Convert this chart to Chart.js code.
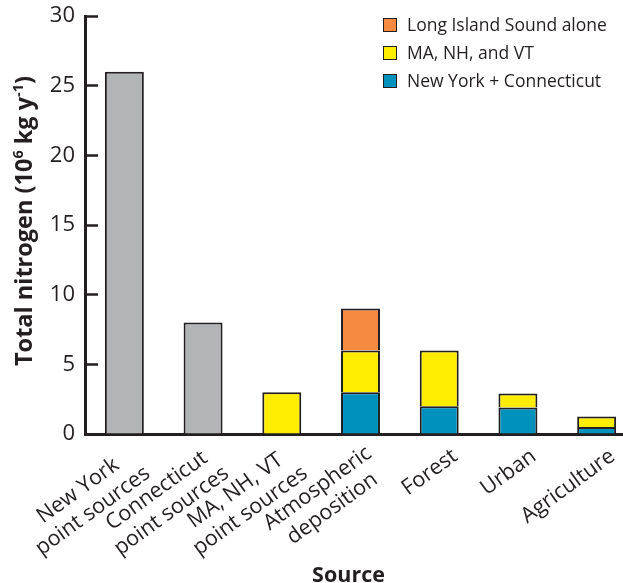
<!DOCTYPE html>
<html>
<head>
<meta charset="utf-8">
<script src="https://cdn.jsdelivr.net/npm/chart.js@4.4.1/dist/chart.umd.min.js"></script>
<style>
  html, body { margin: 0; padding: 0; background: #ffffff; overflow: hidden; }
  #wrap { width: 623px; height: 583px; overflow: hidden; position: relative; }
  canvas { display: block; }
</style>
</head>
<body>
<div id="wrap"><canvas id="chart" width="636" height="583"></canvas></div>
<script>
// Nitrogen sources to Long Island Sound, 10^6 kg per year
const categories = [
  ["New York", "point sources"],
  ["Connecticut", "point sources"],
  ["MA, NH, VT", "point sources"],
  ["Atmospheric", "deposition"],
  ["Forest"],
  ["Urban"],
  ["Agriculture"]
];
const pointSources       = [26, 8, null, null, null, null, null];
const newYorkConnecticut = [null, null, null, 3, 2, 1.9, 0.5];
const maNhVt             = [null, null, 3, 3, 4, 1.0, 0.75];
const longIslandSound    = [null, null, null, 3, null, null, null];
const yTicks = [0, 5, 10, 15, 20, 25, 30];

const INK = '#231f20';
const FONT = '"Open Sans", "DejaVu Sans", sans-serif';

const barStyle = {
  borderColor: INK,
  borderWidth: 2,
  borderSkipped: 'start',
  categoryPercentage: 1,
  barPercentage: 0.495,
  stack: 'n'
};

const datasets = [
  Object.assign({ label: 'Point sources', data: pointSources, backgroundColor: '#b3b4b6', inLegend: false }, barStyle),
  Object.assign({ label: 'New York + Connecticut', data: newYorkConnecticut, backgroundColor: '#0092bd', inLegend: true }, barStyle),
  Object.assign({ label: 'MA, NH, and VT', data: maNhVt, backgroundColor: '#ffed00', inLegend: true }, barStyle),
  Object.assign({ label: 'Long Island Sound alone', data: longIslandSound, backgroundColor: '#f68a41', inLegend: true }, barStyle)
];

// Legend, rotated category labels and axis titles
const decorations = {
  id: 'decorations',
  afterDraw(chart) {
    const ctx = chart.ctx;
    const area = chart.chartArea;
    const xs = chart.scales.x;
    ctx.save();
    ctx.fillStyle = INK;

    // legend: top entry is the top of the stack
    const entries = chart.data.datasets.filter(d => d.inLegend).reverse();
    ctx.font = '17.5px ' + FONT;
    ctx.textAlign = 'left';
    ctx.textBaseline = 'alphabetic';
    entries.forEach((d, i) => {
      const base = 31 + i * 28;
      ctx.fillStyle = d.backgroundColor;
      ctx.fillRect(383, base - 13, 14, 14);
      ctx.strokeStyle = INK;
      ctx.lineWidth = 1;
      ctx.strokeRect(383.5, base - 12.5, 13, 13);
      ctx.fillStyle = INK;
      ctx.fillText(d.label, 407, base);
    });

    // category labels, lines centred, rotated; block hangs from the axis
    const angle = -36 * Math.PI / 180;
    const lh = 25;
    ctx.font = '21.5px ' + FONT;
    ctx.textAlign = 'center';
    ctx.textBaseline = 'middle';
    categories.forEach((lines, i) => {
      const px = xs.getPixelForValue(i);
      const w = Math.max(...lines.map(l => ctx.measureText(l).width));
      ctx.save();
      ctx.translate(px + 16, xs.top + 20 + 7 * (lines.length - 1));
      ctx.rotate(angle);
      lines.forEach((l, k) => {
        ctx.fillText(l, -w / 2, (k - (lines.length - 1) / 2) * lh);
      });
      ctx.restore();
    });

    // x title
    ctx.font = 'bold 21.5px ' + FONT;
    ctx.textAlign = 'center';
    ctx.textBaseline = 'alphabetic';
    ctx.fillText('Source', 348.5, 582);

    // y title with superscripts
    const parts = [
      { t: 'Total nitrogen (10', sup: false },
      { t: '6', sup: true },
      { t: ' kg y', sup: false },
      { t: '-1', sup: true },
      { t: ')', sup: false }
    ];
    const fs = 23.5, sfs = 14.5;
    const widthOf = p => { ctx.font = 'bold ' + (p.sup ? sfs : fs) + 'px ' + FONT; return ctx.measureText(p.t).width; };
    const total = parts.reduce((s, p) => s + widthOf(p), 0);
    ctx.save();
    ctx.translate(32, (area.top + area.bottom) / 2 - 4);
    ctx.rotate(-Math.PI / 2);
    ctx.textAlign = 'left';
    let cx = -total / 2;
    parts.forEach(p => {
      const w = widthOf(p);
      ctx.fillText(p.t, cx, p.sup ? -fs * 0.38 : 0);
      cx += w;
    });
    ctx.restore();

    ctx.restore();
  }
};

new Chart(document.getElementById('chart'), {
  type: 'bar',
  data: { labels: categories.map(c => c.join(' ')), datasets },
  plugins: [decorations],
  options: {
    responsive: false,
    animation: false,
    devicePixelRatio: 1,
    layout: { padding: { top: 16, left: 0, right: 0, bottom: 0 } },
    plugins: { legend: { display: false }, tooltip: { enabled: false } },
    scales: {
      x: {
        stacked: true,
        offset: true,
        grid: { display: false },
        border: { display: true, color: INK, width: 3 },
        ticks: { display: false },
        afterFit(scale) { scale.height = 149; }
      },
      y: {
        stacked: true,
        min: 0,
        max: 30,
        afterBuildTicks(scale) { scale.ticks = yTicks.map(v => ({ value: v })); },
        grid: {
          display: true,
          drawOnChartArea: false,
          drawTicks: true,
          tickLength: -13,
          tickWidth: 2.5,
          tickColor: INK
        },
        border: { display: true, color: INK, width: 3 },
        ticks: {
          padding: 23,
          color: INK,
          font: { family: FONT, size: 22 }
        },
        afterFit(scale) {
          scale.width = 85;
          scale.paddingTop = 0;
          scale.paddingBottom = 0;
        }
      }
    }
  }
});
</script>
</body>
</html>
